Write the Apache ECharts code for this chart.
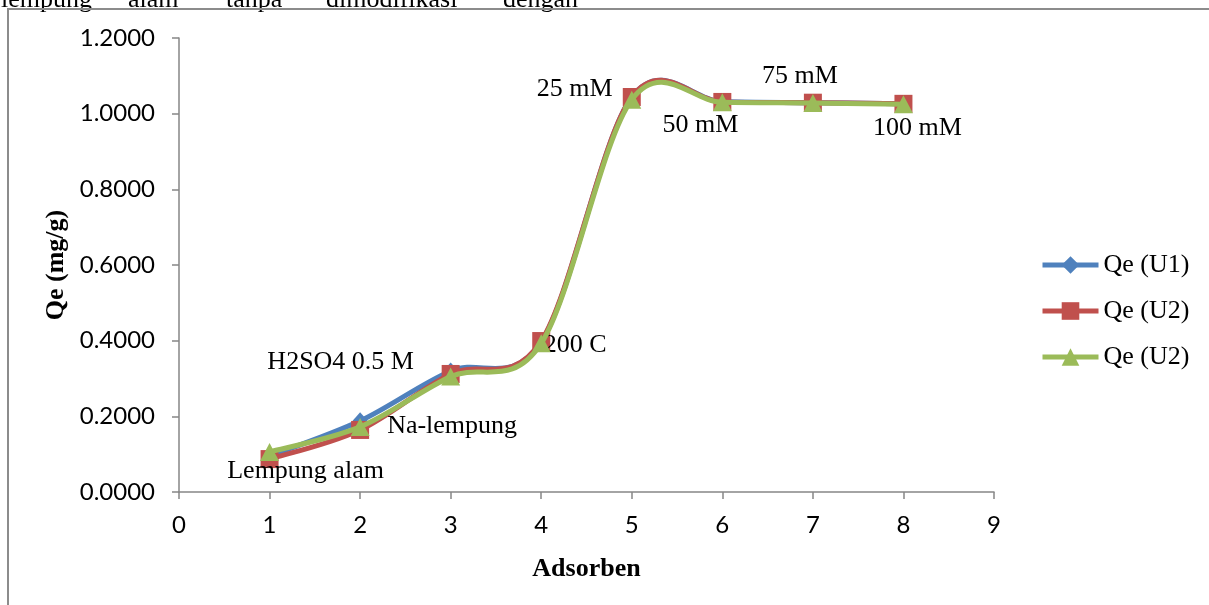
<!DOCTYPE html>
<html><head><meta charset="utf-8">
<script src="https://cdn.jsdelivr.net/npm/echarts@6/dist/echarts.min.js"></script>
<style>html,body{margin:0;padding:0;background:#fff}#c{width:1209px;height:605px}</style>
</head><body><div id="c"></div>
<script>
// ---- data ----
const xValues = [1, 2, 3, 4, 5, 6, 7, 8];
const qeU1 = [0.095, 0.188, 0.320, 0.397, 1.044, 1.032, 1.029, 1.026];
const qeU2a = [0.087, 0.164, 0.312, 0.399, 1.044, 1.031, 1.029, 1.026];
const qeU2b = [0.106, 0.172, 0.305, 0.393, 1.037, 1.030, 1.028, 1.025];
const seriesNames = ['Qe (U1)', 'Qe (U2)', 'Qe (U2)'];
const pointLabels = ['Lempung alam', 'Na-lempung', 'H2SO4 0.5 M', '200 C', '25 mM', '50 mM', '75 mM', '100 mM'];
const xAxisTitle = 'Adsorben';
const yAxisTitle = 'Qe (mg/g)';
const headerWords = ['lempung', 'alam', 'tanpa', 'dimodifikasi', 'dengan'];

// ---- styling ----
const colors = ['#4F81BD', '#C0504D', '#9BBB59'];
const symbols = ['diamond', 'rect', 'triangle'];
const symbolSizes = [[15, 17], 18, [19, 18]];
const labelOffsets = [[36, 12], [92, -4], [-110, -12], [34, 4], [-57, -8], [-22, 23], [-13, -27], [14, 24]];
const headerX = [1, 128, 226, 326, 503];
const serif = '"Liberation Serif", "Times New Roman", serif';
const sans = 'Lato, "Open Sans", sans-serif';
const axisGray = '#868686';

const allValues = [qeU1, qeU2a, qeU2b];
const uniqueNames = seriesNames.map((n, i) => n + '\u200b'.repeat(i));

function curveSeries(values, color, z) {
  return {
    type: 'custom',
    name: '_curve' + z,
    silent: true,
    clip: false,
    z: z,
    data: xValues.map((x, i) => [x, values[i]]),
    encode: { x: 0, y: 1 },
    renderItem: function (params, api) {
      if (params.dataIndex !== 0) return null;
      const pts = xValues.map((x, i) => api.coord([x, values[i]]));
      const n = pts.length;
      const children = [];
      for (let i = 0; i < n - 1; i++) {
        const p0 = pts[Math.max(i - 1, 0)], p1 = pts[i], p2 = pts[i + 1], p3 = pts[Math.min(i + 2, n - 1)];
        children.push({
          type: 'bezierCurve',
          shape: {
            x1: p1[0], y1: p1[1], x2: p2[0], y2: p2[1],
            cpx1: p1[0] + (p2[0] - p0[0]) / 6, cpy1: p1[1] + (p2[1] - p0[1]) / 6,
            cpx2: p2[0] - (p3[0] - p1[0]) / 6, cpy2: p2[1] - (p3[1] - p1[1]) / 6
          },
          style: { fill: 'none', stroke: color, lineWidth: 5, lineCap: 'round', lineJoin: 'round' }
        });
      }
      return { type: 'group', children: children };
    }
  };
}

function markerSeries(idx, withLabels) {
  const values = allValues[idx];
  return {
    type: 'line',
    name: uniqueNames[idx],
    z: 2 * idx + 2,
    symbol: symbols[idx],
    symbolSize: symbolSizes[idx],
    showSymbol: true,
    showAllSymbol: true,
    lineStyle: { opacity: 0, width: 5 },
    itemStyle: { color: colors[idx] },
    emphasis: { disabled: true },
    data: xValues.map((x, i) => {
      const item = { value: [x, values[i]] };
      if (withLabels) {
        item.label = {
          show: true, position: 'inside', offset: labelOffsets[i],
          formatter: pointLabels[i],
          fontFamily: serif, fontSize: 26, color: '#000', align: 'center', verticalAlign: 'middle'
        };
      }
      return item;
    })
  };
}

const series = [];
for (let i = 0; i < 3; i++) {
  series.push(curveSeries(allValues[i], colors[i], 2 * i + 1));
  series.push(markerSeries(i, i === 1));
}

const chart = echarts.init(document.getElementById('c'), null, { renderer: 'canvas' });
chart.setOption({
  animation: false,
  backgroundColor: '#fff',
  grid: { left: 179, right: 215, top: 38, bottom: 113, containLabel: false },
  xAxis: {
    type: 'value', min: 0, max: 9, interval: 1,
    name: xAxisTitle, nameLocation: 'middle', nameGap: 64,
    nameTextStyle: { fontFamily: serif, fontSize: 26, fontWeight: 'bold', color: '#000' },
    axisLine: { show: true, lineStyle: { color: axisGray, width: 1.5 } },
    axisTick: { show: true, length: 7, lineStyle: { color: axisGray, width: 1.5 } },
    axisLabel: { fontFamily: sans, fontSize: 24, color: '#000', margin: 21 },
    splitLine: { show: false }
  },
  yAxis: {
    type: 'value', min: 0, max: 1.2, interval: 0.2,
    name: yAxisTitle, nameLocation: 'middle', nameRotate: 90, nameGap: 104,
    nameTextStyle: { fontFamily: serif, fontSize: 26, fontWeight: 'bold', color: '#000' },
    axisLine: { show: true, lineStyle: { color: axisGray, width: 1.5 } },
    axisTick: { show: true, length: 7, lineStyle: { color: axisGray, width: 1.5 } },
    axisLabel: { fontFamily: sans, fontSize: 24, color: '#000', margin: 24, formatter: v => v.toFixed(4) },
    splitLine: { show: false }
  },
  legend: {
    orient: 'vertical', left: 1040, top: 252, padding: 0,
    itemWidth: 56, itemHeight: 22, itemGap: 20,
    selectedMode: false,
    data: uniqueNames,
    formatter: n => n.replace(/\u200b/g, ''),
    lineStyle: { opacity: 1, width: 5 },
    textStyle: { fontFamily: serif, fontSize: 26, color: '#000', lineHeight: 26, padding: [0, 0, 0, 0] }
  },
  graphic: [
    {
      type: 'rect', z: 100, silent: true,
      shape: { x: 8, y: 9, width: 1400, height: 800 },
      style: { fill: 'none', stroke: '#8c8c8c', lineWidth: 2 }
    }
  ].concat(headerWords.map((w, i) => ({
    type: 'text', z: 99, silent: true, x: headerX[i], y: 0,
    style: { text: w, font: '26px ' + serif, fill: '#000', verticalAlign: 'middle', align: 'left' }
  }))),
  series: series
});
</script>
</body></html>
